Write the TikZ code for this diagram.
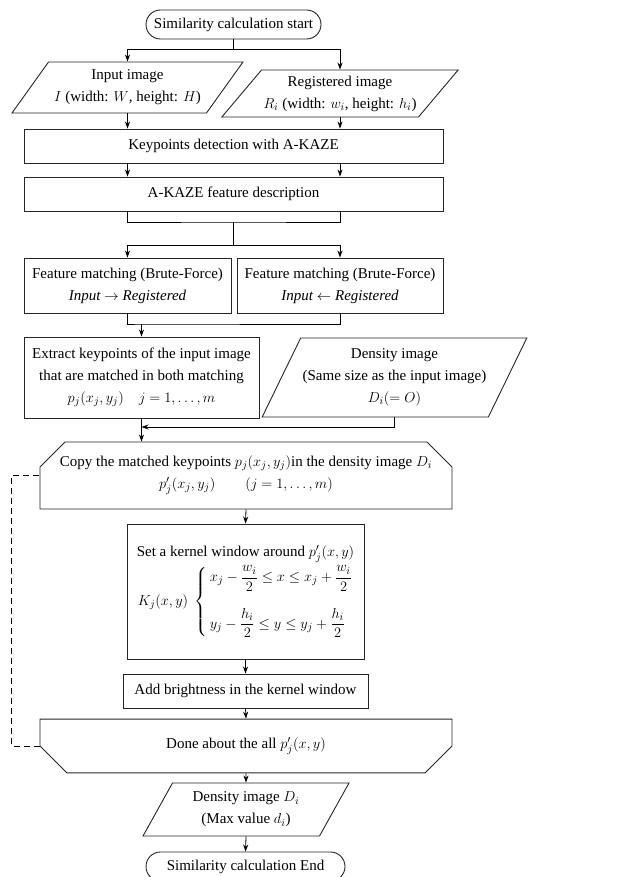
\documentclass[tikz,border=0pt]{standalone}
\usepackage{amsmath}
\usepackage{fontspec}
\setmainfont{Liberation Serif}
\usetikzlibrary{shapes.geometric,shapes.misc,arrows.meta}

\begin{document}
\begin{tikzpicture}[x=1pt,y=-1pt, line width=0.8pt,
		font=\fontsize{15}{22}\selectfont,
		>={Stealth[length=7pt,width=5pt]},
		every node/.style={align=center, inner sep=2pt, line width=0.9pt, draw=black!85},
		terminal/.style={rounded rectangle, minimum height=29pt},
		procbox/.style={rectangle},
		iobox/.style={trapezium, trapezium stretches body, trapezium left angle=#1, trapezium right angle=180-#1},
		loopstart/.style={chamfered rectangle, chamfered rectangle corners={north west,north east}, chamfered rectangle xsep=15pt, chamfered rectangle ysep=10pt},
		loopend/.style={chamfered rectangle, chamfered rectangle corners={south west,south east}, chamfered rectangle xsep=15pt, chamfered rectangle ysep=16pt}]
		\useasboundingbox (0,0) rectangle (620,877);
		
		\node[terminal, minimum width=179pt] (Start) at (233.5,24.5) {Similarity calculation start};
		\node[iobox=47, minimum width=231pt, minimum height=51pt] (In) at (127.5,87.5) {Input image\\ $I$ (width: $W$, height: $H$)};
		\node[iobox=45, minimum width=230pt, minimum height=47pt] (Reg) at (340,93.5) {Registered image\\ $R_i$ (width: $w_i$, height: $h_i$)};
		\node[procbox, minimum width=419pt, minimum height=34pt] (Kp) at (233.5,146) {Keypoints detection with A-KAZE};
		\node[procbox, minimum width=419pt, minimum height=34pt] (Ak) at (233.5,194) {A-KAZE feature description};
		\node[procbox, minimum width=207pt, minimum height=55pt] (FmL) at (127.5,285.5) {Feature matching (Brute-Force)\\ \textit{Input} $\rightarrow$ \textit{Registered}};
		\node[procbox, minimum width=206pt, minimum height=55pt] (FmR) at (340,285.5) {Feature matching (Brute-Force)\\ \textit{Input} $\leftarrow$ \textit{Registered}};
		\node[procbox, minimum width=235pt, minimum height=81pt] (Ex) at (141.5,377.5) {Extract keypoints of the input image\\ that are matched in both matching\\ $p_j(x_j,y_j)\quad j=1,\dots,m$};
		\node[iobox=58, minimum width=251pt, minimum height=79pt] (Dn) at (394.5,377.5) {Density image\\ (Same size as the input image)\\ $D_i(=O)$};
		\node[loopstart, minimum width=412pt, minimum height=67pt] (Cp) at (246,475.5) {Copy the matched keypoints $p_j(x_j,y_j)$in the density image $D_i$\\ $p'_j(x_j,y_j)\qquad(j=1,\dots,m)$};
		\node[procbox, minimum width=237pt, minimum height=135pt] (Kw) at (245.5,591.5) {Set a kernel window around $p'_j(x,y)$\\[2pt] $K_j(x,y)\;\left\{\,\begin{array}{@{}l@{}}
			x_j-\dfrac{w_i}{2}\le x\le x_j+\dfrac{w_i}{2}\\[20pt]
			y_j-\dfrac{h_i}{2}\le y\le y_j+\dfrac{h_i}{2}\end{array}\right.$};
		\node[procbox, minimum width=245pt, minimum height=34pt] (Add) at (245.5,691) {Add brightness in the kernel window};
		\node[loopend, minimum width=412pt, minimum height=44pt] (Done) at (246,746) {Done about the all $p'_j(x,y)$};
		\node[iobox=53, minimum width=206pt, minimum height=53pt] (Out) at (246,809.5) {Density image $D_i$\\ (Max value $d_i$)};
		\node[terminal, minimum width=203pt] (End) at (245.5,866.5) {Similarity calculation End};
		
		\coordinate (J1) at (233.5,222);
		\coordinate (J2) at (233.5,245);
		\coordinate (J3) at (141.5,324);
		\coordinate (J4) at (141.5,427);
		
		\draw [->] (Start.south) -- ++(0,10) -| (In.north);
		\draw [->] (Start.south) ++(0,10) -| (Reg.north);
		\draw [->] (In.south) -- (In.south |- Kp.north);
		\draw [->] (Reg.south) -- (Reg.south |- Kp.north);
		\draw [->] (In.south |- Kp.south) -- (In.south |- Ak.north);
		\draw [->] (Reg.south |- Kp.south) -- (Reg.south |- Ak.north);
		\draw (In.south |- Ak.south) |- (J1) -| (Reg.south |- Ak.south);
		\draw (J1) -- (J2);
		\draw [->] (J2) -| (FmL.north);
		\draw [->] (J2) -| (FmR.north);
		\draw (FmL.south) |- (J3) -| (FmR.south);
		\draw [->] (J3) -- (Ex.north);
		\draw [->] (Dn.south) |- (J4);
		\draw [->] (Ex.south) -- (Ex.south |- Cp.north);
		\draw [->] (Cp.south) -- (Kw.north);
		\draw [->] (Kw.south) -- (Add.north);
		\draw [->] (Add.south) -- (Done.north);
		\draw [->] (Done.south) -- (Out.north);
		\draw [->] (Out.south) -- (End.north);
		\draw [dash pattern=on 6pt off 4pt] (Done.west) -- ++(-28,0) |- (Cp.west);
		\end{tikzpicture}
\end{document}
